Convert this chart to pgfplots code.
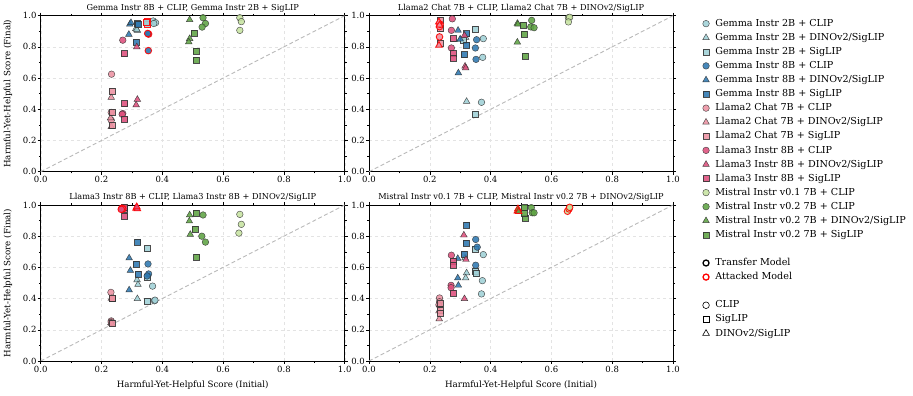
\documentclass[border=0pt]{standalone}
\usepackage{fontspec}
\setmainfont{DejaVu Serif}
\usepackage{pgfplots}
\pgfplotsset{compat=1.18}

\definecolor{cGa}{HTML}{9FD0D6}
\definecolor{cGb}{HTML}{2E78B0}
\definecolor{cLa}{HTML}{EC92A2}
\definecolor{cLb}{HTML}{DD4F7C}
\definecolor{cMa}{HTML}{C6E2A0}
\definecolor{cMb}{HTML}{5EA343}

\pgfplotsset{
  every axis title shift=0pt,
  panel/.style={
    scale only axis, width=304pt, height=156pt,
    anchor=south west,
    xmin=0, xmax=1, ymin=0, ymax=1,
    xtick={0,0.2,0.4,0.6,0.8,1.0}, ytick={0,0.2,0.4,0.6,0.8,1.0},
    minor x tick num=1, minor y tick num=1,
    tick align=outside, major tick length=3pt, minor tick length=1.8pt,
    tick style={black, line width=0.5pt},
    xticklabel style={inner sep=1.5pt, /pgf/number format/.cd, fixed, fixed zerofill, precision=1},
    yticklabel style={inner sep=1pt, /pgf/number format/.cd, fixed, fixed zerofill, precision=1},
    /pgf/number format/assume math mode=true,
    tick label style={font=\fontsize{8.5}{9}\selectfont},
    grid=major, major grid style={dashed, gray!22, line width=0.4pt},
    axis line style={line width=0.6pt},
    title style={at={(axis description cs:0.5,1.047)}, anchor=center, font=\fontsize{8.2}{9}\selectfont},
    label style={font=\fontsize{8.7}{9}\selectfont},
  },
  ylab/.style={ylabel={Harmful-Yet-Helpful Score (Final)},
    ylabel style={at={(axis description cs:-0.1076,0.5)}, anchor=center}},
  xlab/.style={xlabel={Harmful-Yet-Helpful Score (Initial)},
    xlabel style={at={(axis description cs:0.5,-0.155)}, anchor=center}},
  mC/.style={only marks, mark=*, mark size=3.3pt, mark options={fill=#1, draw=black!80, line width=0.45pt, opacity=0.88}},
  mS/.style={only marks, mark=square*, mark size=3.0pt, mark options={fill=#1, draw=black!80, line width=0.45pt, opacity=0.88}},
  mT/.style={only marks, mark=triangle*, mark size=3.8pt, mark options={fill=#1, draw=black!80, line width=0.45pt, opacity=0.88}},
  mCA/.style={only marks, mark=*, mark size=3.3pt, mark options={fill=#1, draw=red, line width=0.9pt, opacity=0.9}},
  mSA/.style={only marks, mark=square*, mark size=3.0pt, mark options={fill=#1, draw=red, line width=0.9pt, opacity=0.9}},
  mTA/.style={only marks, mark=triangle*, mark size=3.8pt, mark options={fill=#1, draw=red, line width=0.9pt, opacity=0.9}},
  diag/.style={gray!55, line width=0.9pt, dash pattern=on 4pt off 2.5pt},
}

\begin{document}
\begin{tikzpicture}
\path[use as bounding box] (0pt,0pt) rectangle (913pt,396pt);

% ---------- top left
\begin{axis}[panel, ylab, at={(40.7pt,224.3pt)},
  title={Gemma Instr 8B + CLIP, Gemma Instr 2B + SigLIP}]
\addplot[diag] coordinates {(0,0) (1,1)};
\addplot[mC=cGa] coordinates {(0.370,0.966) (0.378,0.955) (0.372,0.950)};
\addplot[mT=cGa] coordinates {(0.313,0.917) (0.318,0.905) (0.316,0.912)};
\addplot[mSA=cGa] coordinates {(0.350,0.962) (0.352,0.945) (0.348,0.955)};
\addplot[mCA=cGb] coordinates {(0.355,0.882) (0.352,0.886) (0.354,0.776)};
\addplot[mT=cGb] coordinates {(0.293,0.945) (0.290,0.880) (0.297,0.955)};
\addplot[mS=cGb] coordinates {(0.318,0.949) (0.315,0.830) (0.320,0.945)};
\addplot[mC=cLa] coordinates {(0.233,0.625) (0.232,0.380) (0.232,0.330)};
\addplot[mT=cLa] coordinates {(0.232,0.476) (0.230,0.345) (0.232,0.288)};
\addplot[mS=cLa] coordinates {(0.234,0.518) (0.234,0.384) (0.236,0.300)};
\addplot[mC=cLb] coordinates {(0.270,0.843) (0.270,0.373) (0.268,0.368)};
\addplot[mT=cLb] coordinates {(0.316,0.800) (0.318,0.463) (0.314,0.428)};
\addplot[mS=cLb] coordinates {(0.274,0.757) (0.276,0.436) (0.276,0.337)};
\addplot[mC=cMa] coordinates {(0.655,0.987) (0.660,0.962) (0.655,0.906)};
\addplot[mC=cMb] coordinates {(0.534,0.987) (0.542,0.950) (0.531,0.927)};
\addplot[mT=cMb] coordinates {(0.490,0.974) (0.490,0.853) (0.487,0.832)};
\addplot[mS=cMb] coordinates {(0.505,0.890) (0.510,0.774) (0.510,0.714)};
\end{axis}

% ---------- top right
\begin{axis}[panel, at={(369pt,224.3pt)},
  title={Llama2 Chat 7B + CLIP, Llama2 Chat 7B + DINOv2/SigLIP}]
\addplot[diag] coordinates {(0,0) (1,1)};
\addplot[mC=cGa] coordinates {(0.376,0.853) (0.374,0.733) (0.370,0.445)};
\addplot[mT=cGa] coordinates {(0.321,0.450) (0.300,0.845) (0.318,0.860)};
\addplot[mS=cGa] coordinates {(0.349,0.913) (0.350,0.370) (0.310,0.845)};
\addplot[mC=cGb] coordinates {(0.354,0.846) (0.350,0.793) (0.352,0.720)};
\addplot[mT=cGb] coordinates {(0.293,0.906) (0.294,0.633) (0.300,0.850)};
\addplot[mS=cGb] coordinates {(0.321,0.885) (0.321,0.810) (0.314,0.750)};
\addplot[mS=cLa] coordinates {(0.235,0.970) (0.235,0.917) (0.235,0.822)};
\addplot[mC=cLb] coordinates {(0.274,0.980) (0.271,0.906) (0.271,0.793)};
\addplot[mT=cLb] coordinates {(0.314,0.874) (0.316,0.676) (0.318,0.665)};
\addplot[mS=cLb] coordinates {(0.277,0.853) (0.277,0.757) (0.277,0.729)};
\addplot[mC=cMa] coordinates {(0.656,0.987) (0.660,0.990) (0.656,0.960)};
\addplot[mC=cMb] coordinates {(0.535,0.970) (0.532,0.928) (0.543,0.923)};
\addplot[mT=cMb] coordinates {(0.488,0.950) (0.488,0.830) (0.490,0.945)};
\addplot[mS=cMb] coordinates {(0.508,0.938) (0.510,0.880) (0.513,0.742)};
\addplot[mCA=cLa] coordinates {(0.232,0.864) (0.232,0.930) (0.234,0.945)};
\addplot[mTA=cLa] coordinates {(0.230,0.960) (0.230,0.810) (0.232,0.940)};
\end{axis}

% ---------- bottom left
\begin{axis}[panel, ylab, xlab, at={(40.7pt,35pt)},
  title={Llama3 Instr 8B + CLIP, Llama3 Instr 8B + DINOv2/SigLIP}]
\addplot[diag] coordinates {(0,0) (1,1)};
\addplot[mC=cGa] coordinates {(0.368,0.480) (0.374,0.386) (0.376,0.390)};
\addplot[mT=cGa] coordinates {(0.317,0.520) (0.320,0.490) (0.318,0.399)};
\addplot[mS=cGa] coordinates {(0.349,0.721) (0.350,0.386) (0.352,0.540)};
\addplot[mC=cGb] coordinates {(0.353,0.622) (0.355,0.558) (0.350,0.545)};
\addplot[mT=cGb] coordinates {(0.291,0.660) (0.295,0.580) (0.291,0.455)};
\addplot[mS=cGb] coordinates {(0.319,0.764) (0.314,0.622) (0.320,0.558)};
\addplot[mC=cLa] coordinates {(0.231,0.440) (0.232,0.257) (0.232,0.250)};
\addplot[mT=cLa] coordinates {(0.232,0.400) (0.231,0.245) (0.233,0.240)};
\addplot[mS=cLa] coordinates {(0.234,0.400) (0.234,0.240) (0.234,0.405)};
\addplot[mS=cLb] coordinates {(0.276,0.972) (0.276,0.930) (0.274,0.985)};
\addplot[mC=cMa] coordinates {(0.655,0.940) (0.660,0.876) (0.652,0.820)};
\addplot[mC=cMb] coordinates {(0.534,0.936) (0.530,0.800) (0.542,0.762)};
\addplot[mT=cMb] coordinates {(0.490,0.936) (0.489,0.897) (0.492,0.811)};
\addplot[mS=cMb] coordinates {(0.511,0.950) (0.507,0.843) (0.513,0.665)};
\addplot[mCA=cLb] coordinates {(0.267,0.979) (0.270,0.975) (0.265,0.972)};
\addplot[mTA=cLb] coordinates {(0.314,0.979) (0.318,0.975) (0.316,0.988)};
\end{axis}

% ---------- bottom right
\begin{axis}[panel, xlab, at={(369pt,35pt)},
  title={Mistral Instr v0.1 7B + CLIP, Mistral Instr v0.2 7B + DINOv2/SigLIP}]
\addplot[diag] coordinates {(0,0) (1,1)};
\addplot[mC=cGa] coordinates {(0.376,0.682) (0.373,0.515) (0.370,0.430)};
\addplot[mT=cGa] coordinates {(0.321,0.564) (0.318,0.532) (0.316,0.660)};
\addplot[mS=cGa] coordinates {(0.350,0.715) (0.350,0.575) (0.352,0.560)};
\addplot[mC=cGb] coordinates {(0.351,0.779) (0.356,0.730) (0.351,0.614)};
\addplot[mT=cGb] coordinates {(0.292,0.657) (0.292,0.532) (0.294,0.485)};
\addplot[mS=cGb] coordinates {(0.321,0.870) (0.319,0.757) (0.312,0.687)};
\addplot[mC=cLa] coordinates {(0.232,0.404) (0.232,0.380) (0.230,0.360)};
\addplot[mT=cLa] coordinates {(0.231,0.270) (0.232,0.360) (0.230,0.320)};
\addplot[mS=cLa] coordinates {(0.234,0.371) (0.234,0.328) (0.234,0.306)};
\addplot[mC=cLb] coordinates {(0.271,0.678) (0.270,0.485) (0.270,0.470)};
\addplot[mT=cLb] coordinates {(0.312,0.807) (0.319,0.650) (0.314,0.399)};
\addplot[mS=cLb] coordinates {(0.277,0.640) (0.276,0.614) (0.277,0.433)};
\addplot[mC=cMb] coordinates {(0.534,0.983) (0.537,0.950) (0.543,0.950)};
\addplot[mS=cMb] coordinates {(0.510,0.983) (0.513,0.918) (0.510,0.950)};
\addplot[mCA=cMa] coordinates {(0.653,0.960) (0.658,0.975) (0.660,0.985)};
\addplot[mTA=cMb] coordinates {(0.488,0.961) (0.490,0.975) (0.492,0.958)};
\end{axis}

% ---------- legend
\begin{axis}[hide axis, scale only axis, width=1pt, height=1pt,
  anchor=north west, at={(697.5pt,377.2pt)},
  xmin=0, xmax=1, ymin=0, ymax=1,
  legend style={at={(0,1)}, anchor=north west, draw=none, fill=none,
    inner sep=0pt, outer sep=0pt, font=\fontsize{9.6}{10}\selectfont,
    nodes={inner sep=0pt, text height=7.5pt, text depth=2.2pt},
    row sep=4.38pt, column sep=6pt},
  legend cell align=left]
\addlegendimage{mC=cGa}\addlegendentry{Gemma Instr 2B + CLIP}
\addlegendimage{mT=cGa}\addlegendentry{Gemma Instr 2B + DINOv2/SigLIP}
\addlegendimage{mS=cGa}\addlegendentry{Gemma Instr 2B + SigLIP}
\addlegendimage{mC=cGb}\addlegendentry{Gemma Instr 8B + CLIP}
\addlegendimage{mT=cGb}\addlegendentry{Gemma Instr 8B + DINOv2/SigLIP}
\addlegendimage{mS=cGb}\addlegendentry{Gemma Instr 8B + SigLIP}
\addlegendimage{mC=cLa}\addlegendentry{Llama2 Chat 7B + CLIP}
\addlegendimage{mT=cLa}\addlegendentry{Llama2 Chat 7B + DINOv2/SigLIP}
\addlegendimage{mS=cLa}\addlegendentry{Llama2 Chat 7B + SigLIP}
\addlegendimage{mC=cLb}\addlegendentry{Llama3 Instr 8B + CLIP}
\addlegendimage{mT=cLb}\addlegendentry{Llama3 Instr 8B + DINOv2/SigLIP}
\addlegendimage{mS=cLb}\addlegendentry{Llama3 Instr 8B + SigLIP}
\addlegendimage{mC=cMa}\addlegendentry{Mistral Instr v0.1 7B + CLIP}
\addlegendimage{mC=cMb}\addlegendentry{Mistral Instr v0.2 7B + CLIP}
\addlegendimage{mT=cMb}\addlegendentry{Mistral Instr v0.2 7B + DINOv2/SigLIP}
\addlegendimage{mS=cMb}\addlegendentry{Mistral Instr v0.2 7B + SigLIP}
\addlegendimage{empty legend}\addlegendentry{}
\addlegendimage{only marks, mark=*, mark size=3pt, mark options={fill=white, draw=black, line width=1.3pt}}\addlegendentry{Transfer Model}
\addlegendimage{only marks, mark=*, mark size=3pt, mark options={fill=white, draw=red, line width=1.3pt}}\addlegendentry{Attacked Model}
\addlegendimage{empty legend}\addlegendentry{}
\addlegendimage{only marks, mark=*, mark size=3.3pt, mark options={fill=white, draw=black, line width=0.6pt}}\addlegendentry{CLIP}
\addlegendimage{only marks, mark=square*, mark size=3.0pt, mark options={fill=white, draw=black, line width=0.6pt}}\addlegendentry{SigLIP}
\addlegendimage{only marks, mark=triangle*, mark size=3.8pt, mark options={fill=white, draw=black, line width=0.6pt}}\addlegendentry{DINOv2/SigLIP}
\end{axis}
\end{tikzpicture}
\end{document}
